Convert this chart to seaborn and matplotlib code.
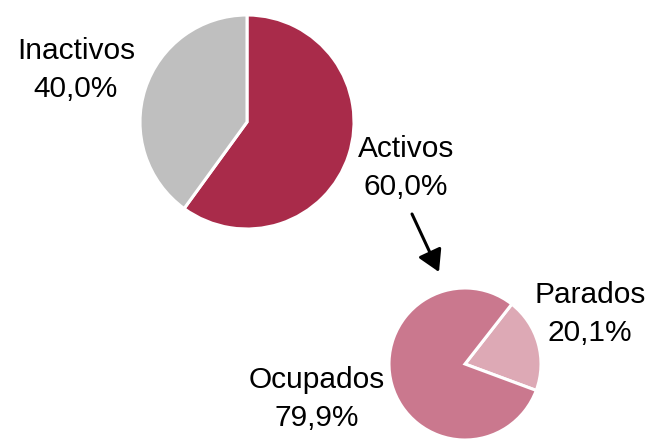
import matplotlib
matplotlib.use('Agg')
import matplotlib.pyplot as plt
import seaborn as sns

# big pie: population by activity
labels_big = ['Activos', 'Inactivos']
values_big = [60.0, 40.0]
colors_big = ['#A92B4A', '#BFBFBF']

# small pie: breakdown of activos
labels_small = ['Parados', 'Ocupados']
values_small = [20.1, 79.9]
colors_small = ['#DDA9B5', '#CA788E']

sns.set_style('white')
plt.rcParams['font.family'] = ['Liberation Sans', 'DejaVu Sans']

fig = plt.figure(figsize=(6.5, 4.41), dpi=100)
ax = fig.add_axes([0, 0, 1, 1])

def pct(v):
    return f'{v:.1f}'.replace('.', ',') + '%'

wedge = dict(edgecolor='white', linewidth=2.2)
ax.pie(values_big, colors=colors_big, startangle=90, counterclock=False,
       center=(247, 319), radius=107, wedgeprops=wedge, frame=True)
ax.pie(values_small, colors=colors_small, startangle=52, counterclock=False,
       center=(465, 77), radius=76, wedgeprops=wedge, frame=True)

# labels
txt = dict(fontsize=21.5, ha='center', va='center', linespacing=1.42, color='black')
ax.text(76, 441 - 70, f'{labels_big[1]}\n{pct(values_big[1])}', **txt)
ax.text(406, 441 - 168, f'{labels_big[0]}\n{pct(values_big[0])}', **txt)
ax.text(590, 441 - 314, f'{labels_small[0]}\n{pct(values_small[0])}', **txt)
ax.text(317, 441 - 399, f'{labels_small[1]}\n{pct(values_small[1])}', **txt)

ax.annotate('', xy=(439, 441 - 272), xytext=(412, 441 - 214),
            arrowprops=dict(arrowstyle='-|>,head_length=0.65,head_width=0.38',
                            mutation_scale=20, color='black', lw=2.2,
                            shrinkA=0, shrinkB=0))

ax.set_xlim(0, 650)
ax.set_ylim(0, 441)
ax.set_aspect('equal')
ax.axis('off')

fig.savefig('out.png', dpi=100)
